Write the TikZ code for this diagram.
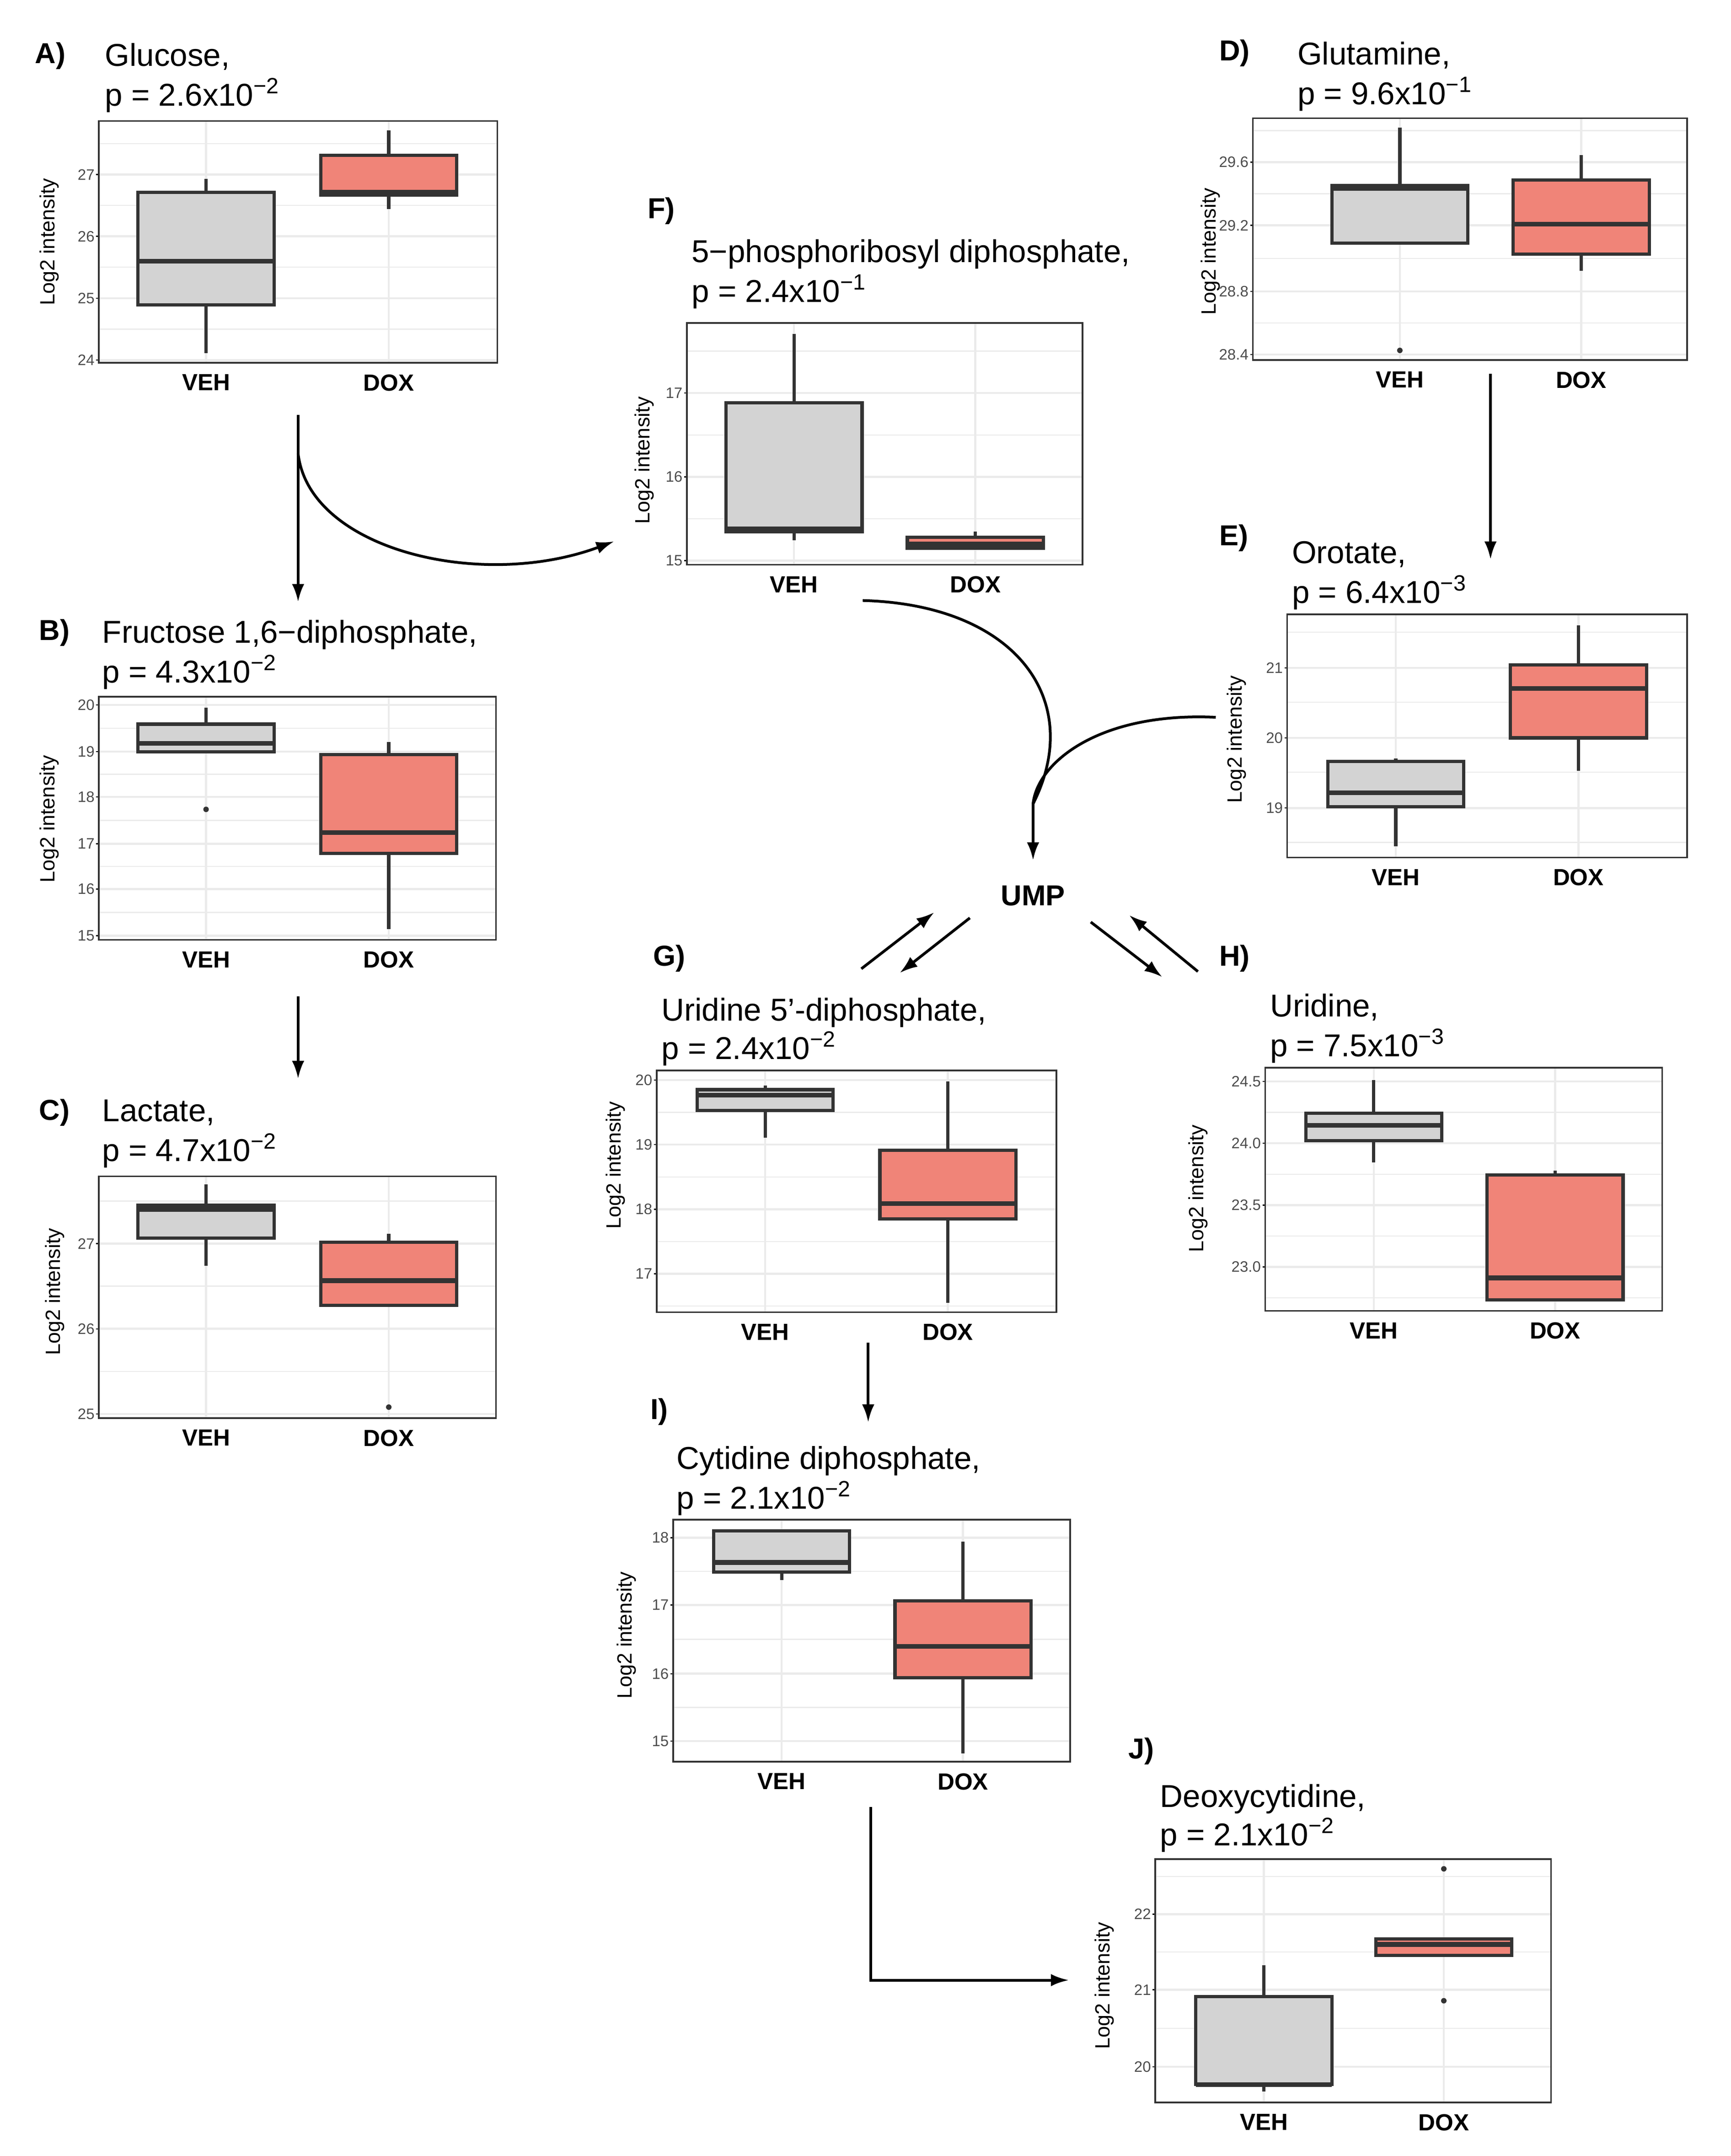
\documentclass[tikz,border=0pt]{standalone}
\usepackage{fontspec}
\setmainfont{Liberation Sans}
\usetikzlibrary{arrows.meta}
\begin{document}
\definecolor{gc}{HTML}{EBEBEB}
\definecolor{veh}{HTML}{D3D3D3}
\definecolor{dox}{HTML}{F08478}
\definecolor{bc}{HTML}{333333}
\begin{tikzpicture}[x=1pt,y=-1pt,
 ttl/.style={anchor=base west,font=\fontsize{23}{23}\selectfont},
 lett/.style={anchor=base west,font=\fontsize{21}{21}\selectfont\bfseries},
 tkl/.style={anchor=east,font=\fontsize{11}{11}\selectfont,text=black!70,inner sep=1pt},
 xl/.style={anchor=north,font=\fontsize{17}{17}\selectfont\bfseries},
 yl/.style={rotate=90,font=\fontsize{15}{15}\selectfont},
 arr/.style={line width=2pt,-{Latex[length=13pt,width=9pt]}}]
\useasboundingbox (0,0) rectangle (1260,1569);
\newcommand\frm[6]{\def\fa{#1}\def\fb{#3}\def\fy{#4}
 \draw[gc,line width=1.5pt] (#5,#2)--(#5,#4) (#6,#2)--(#6,#4);
 \node[xl] at (#5,{#4+5}) {VEH}; \node[xl] at (#6,{#4+5}) {DOX};}
\newcommand\tk[2]{\draw[gc,line width=1.5pt] (\fa,#1)--(\fb,#1); \node[tkl] at ({\fa-2},#1) {#2};\draw[black,line width=0.8pt] ({\fa-2},#1)--(\fa,#1);}
\newcommand\mn[1]{\draw[gc,line width=0.8pt] (\fa,#1)--(\fb,#1);}
\newcommand\bx[7]{\draw[bc,line width=2.4pt] (#1,#2)--(#1,#3) (#1,#5)--(#1,#6);
 \draw[bc,line width=2.4pt,fill=#7] ({#1-49.5},#3) rectangle ({#1+49.5},#5);
 \draw[bc,line width=3.4pt] ({#1-49.5},#4)--({#1+49.5},#4);}
\newcommand\pt[2]{\fill[bc] (#1,#2) circle (2pt);}
\newcommand\frbox[4]{\draw[black!80,line width=1.2pt] (#1,#2) rectangle (#3,#4);}
% A
\frm{72}{88}{362}{264}{150}{283}
\mn{239.5}\mn{194.5}\mn{149.5}\mn{104.5}
\tk{262}{24}\tk{217}{25}\tk{172}{26}\tk{127}{27}
\bx{150}{130}{140}{190}{222}{257}{veh}\bx{283}{95}{113}{140}{142}{152}{dox}
\frbox{72}{88}{362}{264}
\node[lett] at (22,46) {A)}; \node[ttl] at (73,48) {Glucose,}; \node[ttl] at (73,77) {p =  2.6x10\textsuperscript{−2}};
\node[yl] at (36,176) {Log2 intensity};
% B
\frm{72}{507}{361}{684}{150}{283}
\mn{530}\mn{563.5}\mn{597}\mn{630.5}\mn{664}
\tk{513}{20}\tk{547}{19}\tk{580}{18}\tk{614}{17}\tk{647}{16}\tk{681}{15}
\bx{150}{515}{527}{541}{547}{547}{veh}\pt{150}{589}
\bx{283}{540}{549}{606}{621}{676}{dox}
\frbox{72}{507}{361}{684}
\node[lett] at (25,466) {B)}; \node[ttl] at (71,468) {Fructose 1,6−diphosphate,}; \node[ttl] at (71,497) {p =  4.3x10\textsuperscript{−2}};
\node[yl] at (36,596) {Log2 intensity};
% C
\frm{72}{856}{361}{1032}{150}{283}
\mn{874}\mn{936}\mn{998}
\tk{905}{27}\tk{967}{26}\tk{1029}{25}
\bx{150}{862}{877}{880}{901}{921}{veh}
\bx{283}{898}{904}{932}{950}{950}{dox}\pt{283}{1024}
\frbox{72}{856}{361}{1032}
\node[lett] at (25,815) {C)}; \node[ttl] at (71,816) {Lactate,}; \node[ttl] at (71,845) {p =  4.7x10\textsuperscript{−2}};
\node[yl] at (40,940) {Log2 intensity};
% D
\frm{912}{86}{1228}{262}{1019}{1151}
\mn{95}\mn{141}\mn{188}\mn{235}
\tk{118}{29.6}\tk{164}{29.2}\tk{212}{28.8}\tk{258}{28.4}
\bx{1019}{93}{135}{137}{177}{177}{veh}\pt{1019}{255}
\bx{1151}{113}{131}{163}{185}{197}{dox}
\frbox{912}{86}{1228}{262}
\node[lett] at (884,44) {D)}; \node[ttl] at (941,47) {Glutamine,}; \node[ttl] at (941,76) {p =  9.6x10\textsuperscript{−1}};
\node[yl] at (881,183) {Log2 intensity};
% E
\frm{937}{447}{1228}{624}{1016}{1149}
\mn{460}\mn{511}\mn{562}\mn{613}
\tk{486}{21}\tk{537}{20}\tk{588}{19}
\bx{1016}{552}{554}{577}{587}{616}{veh}
\bx{1149}{455}{484}{501}{537}{561}{dox}
\frbox{937}{447}{1228}{624}
\node[lett] at (884,397) {E)}; \node[ttl] at (937,410) {Orotate,}; \node[ttl] at (937,439) {p =  6.4x10\textsuperscript{−3}};
\node[yl] at (900,538) {Log2 intensity};
% F
\frm{500}{235}{788}{411}{578}{710}
\mn{255.5}\mn{316.5}\mn{377.5}
\tk{286}{17}\tk{347}{16}\tk{408}{15}
\bx{578}{243}{293}{385}{387}{393}{veh}
\bx{710}{387}{391}{396}{399}{399}{dox}
\frbox{500}{235}{788}{411}
\node[lett] at (468,159) {F)}; \node[ttl] at (500,191) {5−phosphoribosyl diphosphate,}; \node[ttl] at (500,220) {p =  2.4x10\textsuperscript{−1}};
\node[yl] at (469,335) {Log2 intensity};
% G
\frm{478}{779}{769}{955}{557}{690}
\mn{809.5}\mn{856.5}\mn{903.5}\mn{950.5}
\tk{786}{20}\tk{833}{19}\tk{880}{18}\tk{927}{17}
\bx{557}{790}{793}{797}{808}{828}{veh}
\bx{690}{787}{837}{876}{887}{948}{dox}
\frbox{478}{779}{769}{955}
\node[lett] at (472,703) {G)}; \node[ttl] at (478,743) {Uridine 5’-diphosphate,}; \node[ttl] at (478,771) {p =  2.4x10\textsuperscript{−2}};
\node[yl] at (448,848) {Log2 intensity};
% H
\frm{921}{777}{1210}{954}{1000}{1132}
\mn{809.5}\mn{854.5}\mn{899.5}\mn{944.5}
\tk{787}{24.5}\tk{832}{24.0}\tk{877}{23.5}\tk{922}{23.0}
\bx{1000}{786}{810}{819}{830}{846}{veh}
\bx{1132}{852}{855}{930}{946}{946}{dox}
\frbox{921}{777}{1210}{954}
\node[lett] at (884,703) {H)}; \node[ttl] at (921,740) {Uridine,}; \node[ttl] at (921,769) {p =  7.5x10\textsuperscript{−3}};
\node[yl] at (872,865) {Log2 intensity};
% I
\frm{490}{1106}{779}{1282}{569}{701}
\mn{1143.5}\mn{1193}\mn{1242.5}
\tk{1119}{18}\tk{1168}{17}\tk{1218}{16}\tk{1267}{15}
\bx{569}{1114}{1114}{1137}{1144}{1150}{veh}
\bx{701}{1122}{1165}{1198}{1221}{1276}{dox}
\frbox{490}{1106}{779}{1282}
\node[lett] at (470,1033) {I)}; \node[ttl] at (489,1069) {Cytidine diphosphate,}; \node[ttl] at (489,1098) {p =  2.1x10\textsuperscript{−2}};
\node[yl] at (456,1190) {Log2 intensity};
% J
\frm{841}{1353}{1129}{1530}{920}{1051}
\mn{1365.5}\mn{1420.5}\mn{1476}
\tk{1393}{22}\tk{1448}{21}\tk{1504}{20}
\bx{920}{1430}{1453}{1517}{1517}{1522}{veh}
\bx{1051}{1411}{1411}{1415}{1423}{1423}{dox}\pt{1051}{1360}\pt{1051}{1456}
\frbox{841}{1353}{1129}{1530}
\node[lett] at (818,1280) {J)}; \node[ttl] at (841,1315) {Deoxycytidine,}; \node[ttl] at (841,1343) {p =  2.1x10\textsuperscript{−2}};
\node[yl] at (804,1445) {Log2 intensity};
% UMP and arrows
\node[font=\fontsize{21}{21}\selectfont\bfseries] (ump) at (752,652) {UMP};
\coordinate (a1) at (217,302); \coordinate (a2) at (217,438);
\draw[arr] (a1)--(a2);
\coordinate (c1) at (217,330); \coordinate (c2) at (447,394);
\draw[arr] (c1) .. controls (225,400) and (350,430) .. (c2);
\coordinate (b1) at (217,725); \coordinate (b2) at (217,785); \draw[arr] (b1)--(b2);
\coordinate (d1) at (1085,272); \coordinate (d2) at (1085,407); \draw[arr] (d1)--(d2);
\coordinate (f1) at (628,437); \coordinate (m) at (752,585); \coordinate (u) at (752,626);
\draw[line width=2pt] (f1) .. controls (740,440) and (790,510) .. (m);
\coordinate (e1) at (885,522);
\draw[line width=2pt] (e1) .. controls (800,518) and (755,555) .. (m);
\draw[arr] (m)--(u);
\coordinate (g1) at (627,705); \coordinate (g2) at (680,664); \draw[arr] (g1)--(g2);
\coordinate (g3) at (706,668); \coordinate (g4) at (655,708); \draw[arr] (g3)--(g4);
\coordinate (h1) at (794,671); \coordinate (h2) at (846,711); \draw[arr] (h1)--(h2);
\coordinate (h3) at (872,707); \coordinate (h4) at (822,666); \draw[arr] (h3)--(h4);
\coordinate (i1) at (632,977); \coordinate (i2) at (632,1035); \draw[arr] (i1)--(i2);
\coordinate (j1) at (634,1315); \coordinate (j2) at (634,1441); \coordinate (j3) at (778,1441);
\draw[arr] (j1)--(j2)--(j3);
\end{tikzpicture}
\end{document}
